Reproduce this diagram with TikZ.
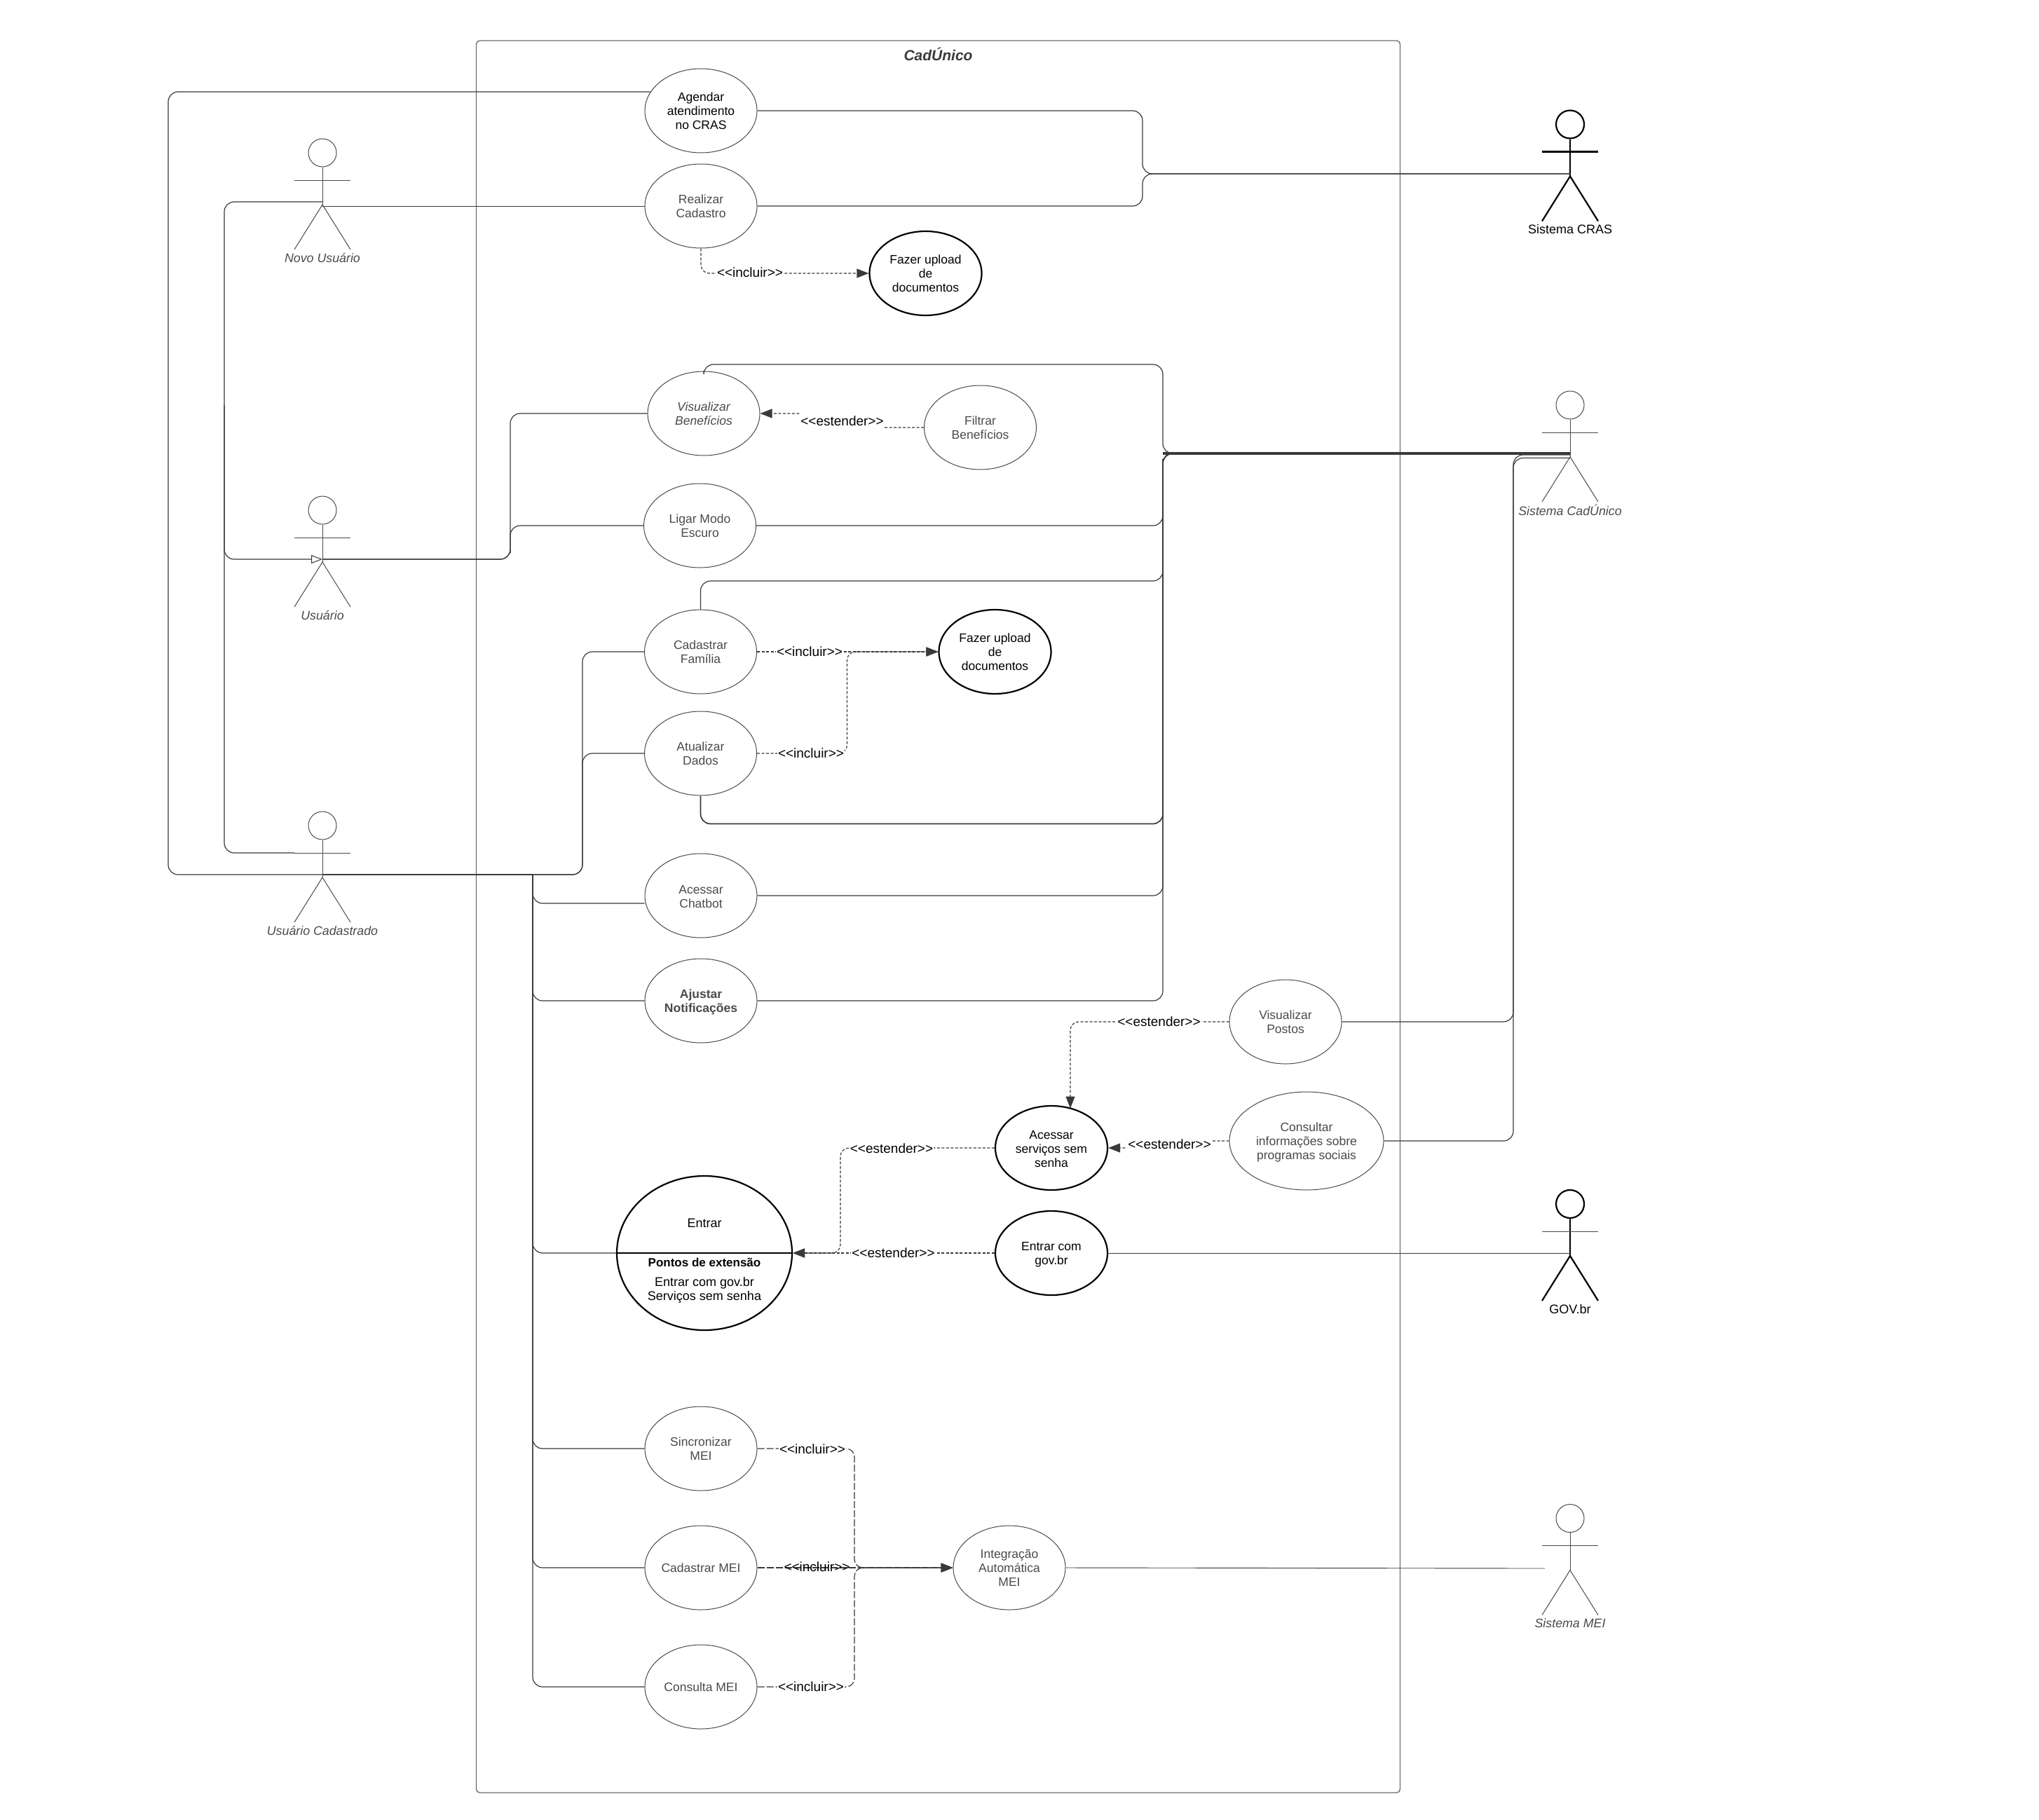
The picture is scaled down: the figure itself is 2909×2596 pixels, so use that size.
\documentclass[tikz,border=0pt]{standalone}
\usepackage{fontspec}
\setmainfont{Liberation Sans}
\usetikzlibrary{shapes.geometric,arrows.meta,calc}
\definecolor{ink}{HTML}{3A3A3A}
\definecolor{soft}{HTML}{4A4A4A}
\definecolor{framec}{HTML}{6E6E6E}
\newcommand{\incl}{<{}<incluir>{}>}
\newcommand{\estd}{<{}<estender>{}>}
\newcommand{\lowered}{\rule{0pt}{16pt}}
\tikzset{
  x=1pt,y=-1pt,
  usecase/.style={ellipse,draw=soft,line width=1pt,fill=white,text=soft,inner sep=0pt,minimum width=160pt,minimum height=120pt,align=center,font=\fontsize{17.5}{20}\selectfont},
  strong/.style={usecase,draw=black,line width=2.2pt,text=black},
  frame box/.style={draw=framec,line width=1.4pt,rounded corners=5pt,inner sep=0pt,minimum width=1318pt,minimum height=2500pt},
  title text/.style={text=ink,font=\fontsize{21}{24}\selectfont\bfseries\itshape,inner sep=0pt},
  assoc/.style={draw=ink,line width=1.2pt,rounded corners=14pt},
  assoc light/.style={assoc,line width=0.9pt},
  assoc thick/.style={assoc,line width=1.7pt},
  bus/.style={draw=ink,line width=3.6pt},
  trunk/.style={draw=ink,line width=2.6pt},
  generalize/.style={assoc,-{Triangle[open,length=16pt,width=12pt,line width=1pt]}},
  dep/.style={draw=ink,line width=1.2pt,dash pattern=on 4pt off 2.5pt,rounded corners=12pt},
  deptip/.style={dep,-{Triangle[length=17pt,width=13pt,fill=ink]}},
  deplong/.style={dep,dash pattern=on 10pt off 3pt},
  deplongtip/.style={deplong,-{Triangle[length=17pt,width=13pt,fill=ink]}},
  rellabel/.style={fill=white,inner sep=1pt,text=black,font=\fontsize{19}{22}\selectfont},
  rellabelbare/.style={rellabel,fill=none},
  actorhead/.style={ellipse,draw,fill=white,inner sep=0pt,minimum width=40pt,minimum height=40pt},
  actorlabel/.style={inner sep=0pt,text=soft,font=\fontsize{17.8}{20}\selectfont\itshape},
  thinactor/.style={draw=soft,line width=1pt},
  boldactor/.style={draw=black,line width=2.2pt},
  note/.style={inner sep=0pt,align=center,text=black,font=\fontsize{18}{20}\selectfont},
}
% #1 name, #2 x, #3 head centre y, #4 limb style, #5 arm style, #6 label style, #7 label
\newcommand{\umlactor}[7]{%
  \node[actorhead,#4] (#1-head) at (#2,#3) {};
  \coordinate (#1) at (#2,{#3+74});
  \coordinate (#1-la) at ({#2-40},{#3+39});
  \coordinate (#1-ra) at ({#2+40},{#3+39});
  \coordinate (#1-ll) at ({#2-40},{#3+138});
  \coordinate (#1-rl) at ({#2+40},{#3+138});
  \draw[#4] (#1-head.south) -- (#1);
  \draw[#4] (#1-ll) -- (#1) -- (#1-rl);
  \draw[#5] (#1-la) -- (#1-ra);
  \node[actorlabel,#6] (#1-label) at (#2,{#3+150}) {#7};
}
\begin{document}
\begin{tikzpicture}
\useasboundingbox[fill=white] (0,0) rectangle (2909,2596);
% system boundary
\node[frame box] (frame) at (1338.5,1308) {};
\node[title text] (title) at (1338.5,77) {CadÚnico};

% use cases
\node[usecase,text=black] (agendar) at (1000,158) {Agendar\\atendimento\\no CRAS};
\node[usecase] (realizar) at (1000,294) {Realizar\\Cadastro};
\node[strong] (fazerA) at (1320.5,390) {Fazer upload\\de\\documentos};
\node[usecase,font=\fontsize{17.5}{20}\selectfont\itshape] (visben) at (1004,590) {Visualizar\\Benefícios};
\node[usecase] (filtrar) at (1398.5,610) {Filtrar\\Benefícios};
\node[usecase] (ligar) at (998.5,750) {Ligar Modo\\Escuro};
\node[usecase] (family) at (999.5,930) {Cadastrar\\Família};
\node[strong] (fazerB) at (1419.5,930) {Fazer upload\\de\\documentos};
\node[usecase] (update) at (999.5,1075) {Atualizar\\Dados};
\node[usecase] (chatbot) at (1000,1278) {\lowered Acessar\\Chatbot};
\node[usecase,font=\fontsize{17.5}{20}\selectfont\bfseries] (ajustar) at (1000,1428) {\lowered Ajustar\\Notificações};
\node[usecase] (postos) at (1834,1458) {Visualizar\\Postos};
\node[usecase,minimum width=220pt,minimum height=140pt] (consultar) at (1864,1628) {\lowered Consultar\\informações sobre\\programas sociais};
\node[strong] (semsenha) at (1500,1638) {\lowered Acessar\\serviços sem\\senha};
\node[strong] (comgov) at (1500,1788) {\lowered Entrar com\\gov.br};
\node[strong,minimum width=250pt,minimum height=220pt] (entrar) at (1005,1788) {};
\node[usecase] (sinc) at (1000,2067) {Sincronizar\\MEI};
\node[usecase] (cadmei) at (1000,2237) {Cadastrar MEI};
\node[usecase] (consmei) at (1000,2407) {Consulta MEI};
\node[usecase] (integ) at (1440,2237) {Integração\\Automática\\MEI};

% texts of the Entrar use case
\draw[black,line width=2.6pt] (entrar.west) -- (entrar.east);
\node[note] (entrarT) at (1005,1745) {Entrar};
\node[note,font=\fontsize{17}{20}\selectfont\bfseries] (entrarP) at (1005,1801) {Pontos de extensão};
\node[note] (entrarL) at (1005,1841) {Entrar com gov.br\\Serviços sem senha};

% actors
\umlactor{novo}{460}{218}{thinactor}{thinactor}{}{Novo Usuário}
\umlactor{usuario}{460}{728}{thinactor}{thinactor}{}{Usuário}
\umlactor{cadastrado}{460}{1178}{thinactor}{thinactor}{}{Usuário Cadastrado}
\umlactor{cras}{2240}{177.5}{boldactor}{boldactor}{text=black,font=\fontsize{18}{20}\selectfont}{Sistema CRAS}
\umlactor{cadunico}{2240}{578}{thinactor}{thinactor}{}{Sistema CadÚnico}
\umlactor{gov}{2240}{1718}{boldactor}{thinactor}{text=black,font=\fontsize{18}{20}\selectfont}{GOV.br}
\umlactor{mei}{2240}{2166.5}{thinactor}{thinactor}{}{Sistema MEI}

% routing points
\coordinate (novoL) at (460,288);
\coordinate (novoR) at (460,294);
\coordinate (usuarioP) at (460,798);
\coordinate (cadHip) at (460,1248);
\coordinate (cadArm) at (420,1217);
\coordinate (genX) at (320,500);
\coordinate (genTop) at (320,578);
\coordinate (agendaL) at (240,600);
\coordinate (userBus) at (728,775);
\coordinate (famBus) at (831,1100);
\coordinate (cadBus) at (760,1248);
\coordinate (crasHit) at (2240,248);
\coordinate (crasBus) at (1630,248);
\coordinate (cuHit) at (2240,647);
\coordinate (cuBus) at (1659,647);
\coordinate (cuTop) at (1659,520);
\coordinate (cuFam) at (1659,829);
\coordinate (cuUpd) at (1659,1175.5);
\coordinate (rightBus) at (2159,1000);
\coordinate (cuHitA) at (2240,649);
\coordinate (cuHitB) at (2240,653.5);
\coordinate (govHit) at (2240,1788);
\coordinate (meiHit) at (2204,2238);
\coordinate (fazerElbow) at (1208.5,1000);
\coordinate (semTip) at (1527,1581.5);
\coordinate (entrarElbow) at (1199,1700);
\coordinate (meiElbow) at (1219,2237);
\coordinate (filtrarElbow) at (1201,610);
\coordinate (consultarElbow) at (1668,1628);

% actor associations
\draw[assoc light] (novoR) -- (realizar.west);
\draw[generalize] (novoL) -| (genX) |- (usuarioP);
\draw[assoc] (cadArm) -| (genTop);
\draw[assoc] (cadHip) -| (agendaL) |- ($(agendar.west)+(8.5,-27)$);
\draw[assoc] (usuarioP) -| (userBus) |- (visben.west);
\draw[assoc] (usuarioP) -| (userBus) |- (ligar.west);
\draw[assoc] (cadHip) -| (famBus) |- (family.west);
\draw[assoc] (cadHip) -| (famBus) |- (update.west);
\draw[bus,line width=2.6pt] (cadHip) -- (cadBus);
\draw[assoc] (cadBus) |- ($(chatbot.west)+(0,11)$);
\draw[assoc] (cadBus) |- (ajustar.west);
\draw[assoc] (cadBus) |- (entrar.west);
\draw[assoc] (cadBus) |- (sinc.west);
\draw[assoc] (cadBus) |- (cadmei.west);
\draw[assoc] (cadBus) |- (consmei.west);

% external systems
\draw[assoc] (agendar.east) -| (crasBus) -- (crasHit);
\draw[assoc] (realizar.east) -| (crasBus) -- (crasHit);
\draw[assoc] (visben.north) |- (cuTop) -- (cuBus) -- (cuHit);
\draw[assoc] (ligar.east) -| (cuBus) -- (cuHit);
\draw[assoc] (family.north) |- (cuFam) -- (cuBus) -- (cuHit);
\draw[assoc thick] (update.south) |- (cuUpd) -- (cuBus) -- (cuHit);
\draw[assoc] (chatbot.east) -| (cuBus) -- (cuHit);
\draw[assoc] (ajustar.east) -| (cuBus) -- (cuHit);
\draw[bus] (cuBus) -- (cuHit);
\draw[trunk] ($(cuBus)+(0,8)$) -- (cuFam);
\draw[assoc] (postos.east) -| (rightBus) |- (cuHitA);
\draw[assoc] (consultar.east) -| (rightBus) |- (cuHitB);
\draw[assoc light] (comgov.east) -- (govHit);
\draw[assoc light] (integ.east) -- (meiHit);

% include / extend
\draw[deptip] (realizar.south) |- (fazerA.west);
\draw[deptip] (filtrar.west) -- (filtrarElbow) |- (visben.east);
\draw[deptip] (family.east) -- (fazerB.west);
\draw[deptip] (update.east) -| (fazerElbow) |- (fazerB.west);
\draw[deptip] (postos.west) -| (semTip);
\draw[deptip] (consultar.west) -- (consultarElbow) |- (semsenha.east);
\draw[deptip] (semsenha.west) -| (entrarElbow) |- (entrar.east);
\draw[deptip] (comgov.west) -- (entrar.east);
\draw[deplongtip] (sinc.east) -| (meiElbow) -- (integ.west);
\draw[deplongtip] (cadmei.east) -- (integ.west);
\draw[deplongtip] (consmei.east) -| (meiElbow) -- (integ.west);

% relation labels
\node[rellabel] (l1) at (1070,389) {\incl};
\node[rellabel,minimum height=28pt] (l2) at (1201.5,600.5) {\estd};
\node[rellabel] (l3) at (1155,930) {\incl};
\node[rellabel] (l4) at (1157,1075) {\incl};
\node[rellabel] (l5) at (1653.5,1458) {\estd};
\node[rellabel] (l6) at (1668.5,1633) {\estd};
\node[rellabel] (l7) at (1272,1638.5) {\estd};
\node[rellabel] (l8) at (1274.5,1788) {\estd};
\node[rellabel] (l9) at (1159,2068) {\incl};
\node[rellabelbare] (l10) at (1165.5,2236) {\incl};
\node[rellabel] (l11) at (1157,2407) {\incl};
\end{tikzpicture}
\end{document}
